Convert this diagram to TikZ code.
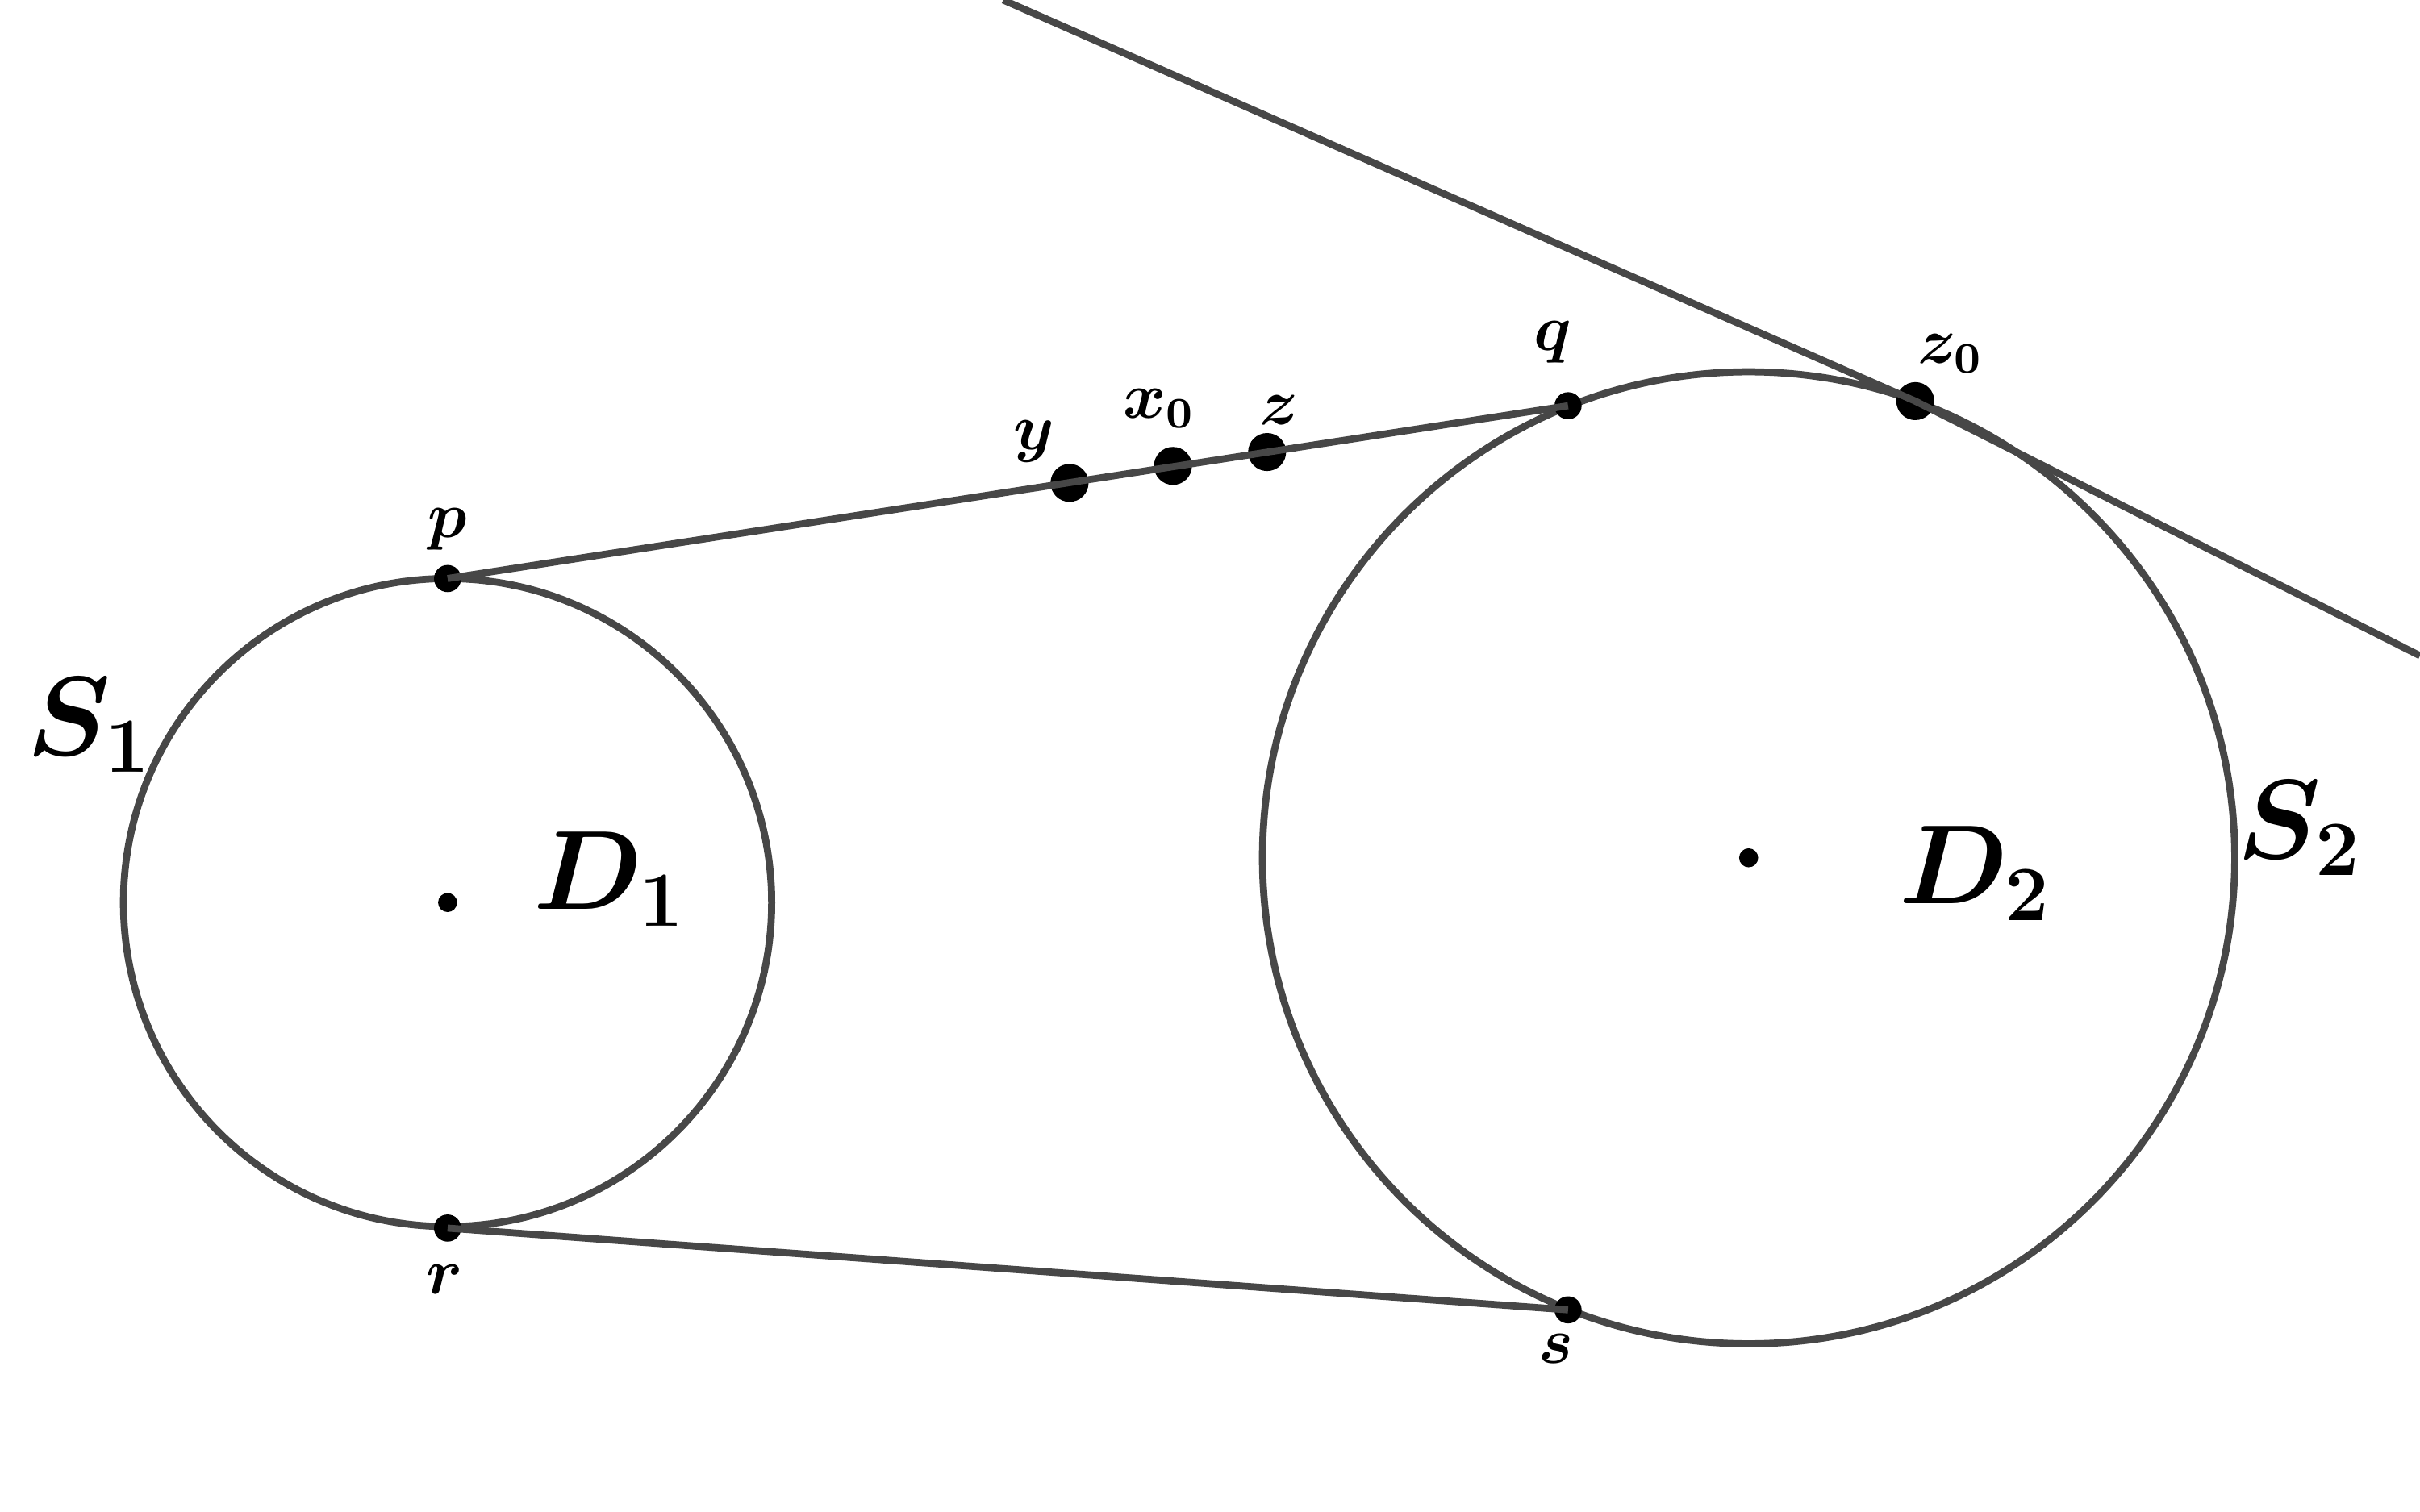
\documentclass[tikz,border=0pt]{standalone}
\usepackage{bm}
\begin{document}
\begin{tikzpicture}[x=0.01cm,y=-0.01cm,
  curve/.style={draw=black!72,line width=1.3pt},
  pt/.style={circle,fill=black,inner sep=0pt,minimum size=5pt},
  bigpt/.style={circle,fill=black,inner sep=0pt,minimum size=7pt},
  lab/.style={font=\fontsize{12}{14}\selectfont},
  biglab/.style={font=\fontsize{21}{24}\selectfont}]
\useasboundingbox (0,0) rectangle (1568,980);
\coordinate (c1) at (290,585);
\coordinate (c2) at (1133,556);
\draw[curve] (c1) circle (210);
\draw[curve] (c2) circle (315);
\node[pt] (p) at (290,375) {};
\node[pt] (r) at (290,796) {};
\node[pt] (q) at (1016,263) {};
\node[pt] (s) at (1016,849) {};
\node[bigpt] (y) at (693,313) {};
\node[bigpt] (x0) at (760,302) {};
\node[bigpt] (z) at (821,293) {};
\node[bigpt] (z0) at (1241,260) {};
\node[circle,fill=black,inner sep=0pt,minimum size=3.5pt] (d1) at (c1) {};
\node[circle,fill=black,inner sep=0pt,minimum size=3.5pt] (d2) at (c2) {};
\coordinate (L1) at (650,0);
\coordinate (L2) at (1568,425);
\draw[curve] (p.center) -- (q.center);
\draw[curve] (r.center) -- (s.center);
\draw[curve] (L1) -- (z0.center) -- (L2);
\node[lab] at (290,343) {$\bm{p}$};
\node[lab] at (288,829) {$\bm{r}$};
\node[lab] at (1006,222) {$\bm{q}$};
\node[lab] at (1008,874) {$\bm{s}$};
\node[lab] at (670,286) {$\bm{y}$};
\node[lab] at (751,265) {$\bm{x_0}$};
\node[lab] at (829,266) {$\bm{z}$};
\node[lab] at (1264,229) {$\bm{z_0}$};
\node[biglab] at (58,470) {$\bm{S_1}$};
\node[biglab] at (1490,537) {$\bm{S_2}$};
\node[biglab] at (395,570) {$\bm{D_1}$};
\node[biglab] at (1280,566) {$\bm{D_2}$};
\end{tikzpicture}
\end{document}
